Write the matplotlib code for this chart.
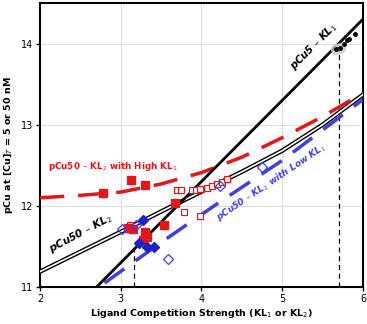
#Program to plot pCu vs ligand competition strength
import numpy as np
import matplotlib.pyplot as plt

#model curves
kl1_x = [2.7, 6.0]
pcu5_y = [11.0, 14.3]

kl2_x = [2.0, 3.0, 3.6, 4.5, 5.0, 5.5, 6.0]
pcu50_y = [11.19, 11.68, 11.98, 12.42, 12.68, 13.0, 13.37]

high_x = [2.0, 2.5, 3.0, 3.5, 4.0, 4.5, 5.0, 5.5, 6.0]
high_y = [12.1, 12.13, 12.17, 12.27, 12.41, 12.6, 12.84, 13.1, 13.39]

low_x = [2.8, 3.5, 4.2, 5.0, 6.0]
low_y = [11.05, 11.55, 12.03, 12.56, 13.31]

#data points
red_fill_x = [2.78, 3.13, 3.30, 3.67, 3.54, 3.30, 3.32, 3.28, 3.09, 3.15]
red_fill_y = [12.16, 12.32, 12.26, 12.04, 11.77, 11.68, 11.62, 11.58, 11.73, 11.72]
red_open_x = [3.70, 3.75, 3.78, 3.88, 3.93, 3.98, 4.07, 4.13, 4.19, 4.25, 4.31, 3.98, 3.12]
red_open_y = [12.20, 12.19, 11.92, 12.20, 12.20, 12.21, 12.22, 12.24, 12.27, 12.30, 12.33, 11.87, 11.76]
blue_fill_x = [3.28, 3.22, 3.32, 3.41]
blue_fill_y = [11.83, 11.54, 11.49, 11.49]
blue_open_x = [3.01, 3.19, 3.59, 4.23, 4.75]
blue_open_y = [11.71, 11.76, 11.34, 12.24, 12.48]
dot_x = [5.66, 5.71, 5.76, 5.80, 5.83, 5.90]
dot_y = [13.93, 13.95, 14.00, 14.04, 14.06, 14.12]

#vertical markers
vline_x = [3.17, 5.70]
vline_top = [11.52, 13.93]

red = '#e8141c'
blue = '#3f3fe6'

fig = plt.figure(figsize=(3.67, 3.24), dpi=100)
ax = fig.add_axes([0.109, 0.114, 0.88, 0.877])

ax.grid(color='#dddddd', lw=0.8, zorder=0)

#vertical dashed lines
for xv, yt in zip(vline_x, vline_top):
    ax.plot([xv, xv], [11, yt], color='k', lw=0.9, ls=(0, (4, 3)), zorder=2)

#double line pCu50 - KL2
ax.plot(kl2_x, pcu50_y, color='k', lw=3.2, zorder=3)
ax.plot(kl2_x, pcu50_y, color='white', lw=1.2, zorder=3)
#pCu5 - KL1
ax.plot(kl1_x, pcu5_y, color='k', lw=2, zorder=4)
#dashed models
ax.plot(high_x, high_y, color=red, lw=2.5, dashes=(7, 4), zorder=3)
ax.plot(low_x, low_y, color=blue, lw=2.5, dashes=(7, 4), zorder=3)

#points
ax.plot(red_open_x, red_open_y, 's', ms=5, mfc='white', mec=red, mew=0.9, zorder=5)
ax.plot(red_fill_x, red_fill_y, 's', ms=5.5, color=red, zorder=5)
ax.plot(blue_open_x, blue_open_y, 'D', ms=5, mfc='none', mec=blue, mew=0.9, zorder=6)
ax.plot(blue_fill_x, blue_fill_y, 'D', ms=5, color='#2020c8', zorder=6)
ax.plot(dot_x[:2], dot_y[:2], 'o', ms=7, color='#cccccc', alpha=0.8, zorder=5)
ax.plot(dot_x, dot_y, 'o', ms=2.5, color='k', zorder=6)

#labels on the lines
ax.text(5.39, 13.97, 'pCu5 – KL$_1$', rotation=45, ha='center', va='center',
        fontsize=7.3, fontstyle='italic', fontweight='bold', zorder=7)
ax.text(2.5, 11.66, 'pCu50 – KL$_2$', rotation=28, ha='center', va='center',
        fontsize=7.5, fontstyle='italic', fontweight='bold', zorder=7)
ax.text(2.1, 12.48, 'pCu50 – KL$_2$ with High KL$_1$', color=red, ha='left', va='center',
        fontsize=6.3, fontweight='bold', zorder=7)
ax.text(4.86, 12.29, 'pCu50 – KL$_2$ with Low KL$_1$', color=blue, rotation=34,
        ha='center', va='center', fontsize=6.5, fontweight='bold', fontstyle='italic', zorder=7)

ax.set_xlim(2, 6)
ax.set_ylim(11, 14.5)
ax.set_xticks([2, 3, 4, 5, 6])
ax.set_yticks([11, 12, 13, 14])
ax.tick_params(labelsize=7, length=3, width=1, pad=2)
for s in ax.spines.values():
    s.set_linewidth(1.5)

ax.set_xlabel('Ligand Competition Strength (KL$_1$ or KL$_2$)', fontsize=6.8,
              fontweight='bold', labelpad=2)
ax.set_ylabel('pCu at [Cu]$_T$ = 5 or 50 nM', fontsize=6.8, fontweight='bold', labelpad=4)

plt.savefig('out.png', dpi=100)
